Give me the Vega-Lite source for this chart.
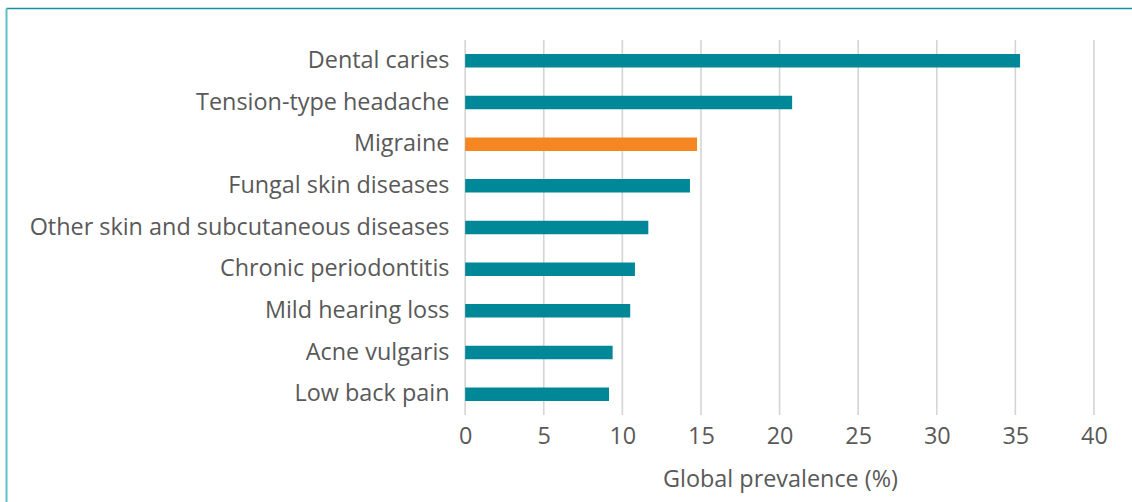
{
  "$schema": "https://vega.github.io/schema/vega-lite/v6.json",
  "width": 1126,
  "height": 494,
  "autosize": {"type": "none"},
  "padding": {"left": 6, "top": 8, "right": 0, "bottom": 0},
  "background": "white",
  "config": {
    "view": {"stroke": null},
    "font": "Open Sans"
  },
  "resolve": {"axis": {"x": "independent", "y": "independent"}, "scale": {"y": "independent"}},
  "layer": [
    {
      "data": {"values": [
        {"value": 0}, {"value": 5}, {"value": 10}, {"value": 15}, {"value": 20},
        {"value": 25}, {"value": 30}, {"value": 35}, {"value": 40}
      ]},
      "mark": {"type": "rule", "color": "#d4d4d4", "strokeWidth": 1.6, "yOffset": 32, "y2Offset": -87},
      "encoding": {
        "x": {
          "field": "value",
          "type": "quantitative",
          "scale": {"domain": [-29.21, 42.42], "nice": false, "zero": false},
          "axis": {
            "orient": "top",
            "domain": true,
            "domainColor": "#1591a0",
            "domainWidth": 1.5,
            "labels": false,
            "ticks": false,
            "grid": false,
            "title": null
          }
        },
        "y": {
          "datum": "Dental caries",
          "type": "nominal",
          "scale": {
            "type": "point",
            "domain": ["Dental caries", "Low back pain"],
            "padding": 0
          },
          "axis": {
            "orient": "left",
            "domain": true,
            "domainColor": "#5cbfca",
            "domainWidth": 2,
            "labels": false,
            "ticks": false,
            "grid": false,
            "title": null
          }
        },
        "y2": {"datum": "Low back pain"}
      }
    },
    {
      "data": {"values": [
        {"disease": "Dental caries", "value": 35.3},
        {"disease": "Tension-type headache", "value": 20.8},
        {"disease": "Migraine", "value": 14.75},
        {"disease": "Fungal skin diseases", "value": 14.3},
        {"disease": "Other skin and subcutaneous diseases", "value": 11.65},
        {"disease": "Chronic periodontitis", "value": 10.8},
        {"disease": "Mild hearing loss", "value": 10.5},
        {"disease": "Acne vulgaris", "value": 9.38},
        {"disease": "Low back pain", "value": 9.15}
      ]},
      "mark": {"type": "bar"},
      "encoding": {
        "y": {
          "field": "disease",
          "type": "nominal",
          "scale": {
            "type": "band",
            "domain": ["Dental caries", "Tension-type headache", "Migraine", "Fungal skin diseases", "Other skin and subcutaneous diseases", "Chronic periodontitis", "Mild hearing loss", "Acne vulgaris", "Low back pain"],
            "range": [32, 407],
            "paddingInner": 0.676, "paddingOuter": 0.338
          },
          "axis": {
            "orient": "left",
            "title": null,
            "domain": false,
            "ticks": false,
            "tickSize": 0,
            "grid": false,
            "labelPadding": -443,
            "labelFontSize": 23.4,
            "labelColor": "#595959",
            "labelLimit": 700
          }
        },
        "x": {
          "field": "value",
          "type": "quantitative",
          "scale": {"domain": [-29.21, 42.42], "nice": false, "zero": false},
          "axis": {
            "orient": "bottom",
            "values": [0, 5, 10, 15, 20, 25, 30, 35, 40],
            "grid": false,
            "domain": false,
            "ticks": false,
            "tickSize": 0,
            "labelFlush": false,
            "labelPadding": -76.8,
            "labelFontSize": 23.4,
            "labelColor": "#595959",
            "title": "Global prevalence (%)",
            "titleFontSize": 23.4,
            "titleFontWeight": "normal",
            "titleColor": "#595959",
            "titleX": 774,
            "titleY": -15.5,
            "titleAlign": "center",
            "titleBaseline": "alphabetic"
          }
        },
        "color": {
          "condition": {"test": "datum.disease === 'Migraine'", "value": "#f58621"},
          "value": "#008898"
        }
      }
    }
  ]
}
